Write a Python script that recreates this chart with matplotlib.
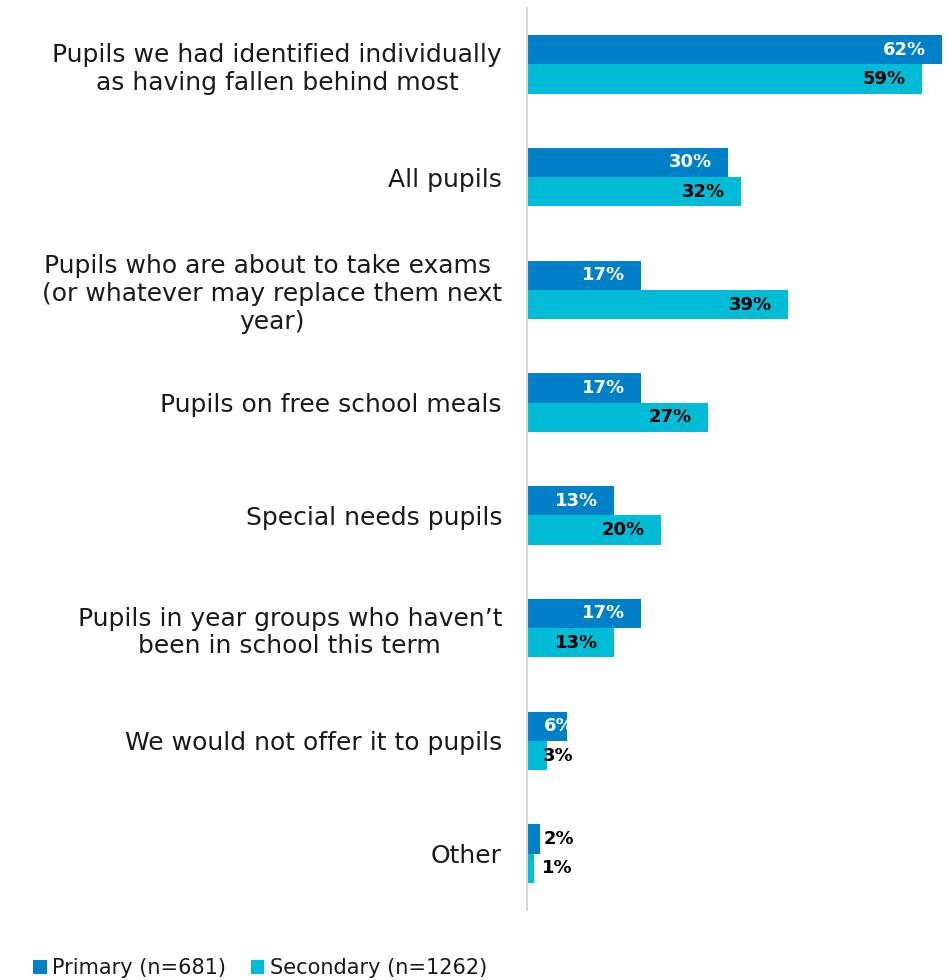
import matplotlib.pyplot as plt
import numpy as np

categories = ["Pupils we had identified individually\nas having fallen behind most",
              "All pupils",
              "Pupils who are about to take exams \n(or whatever may replace them next\nyear)",
              "Pupils on free school meals",
              "Special needs pupils",
              "Pupils in year groups who haven\u2019t\nbeen in school this term",
              "We would not offer it to pupils",
              "Other"]
primary = [62, 30, 17, 17, 13, 17, 6, 2]
secondary = [59, 32, 39, 27, 20, 13, 3, 1]
series_names = ["Primary (n=681)", "Secondary (n=1262)"]

c_prim = "#0080C8"
c_sec = "#00BCD6"

plt.rcParams['font.family'] = "DejaVu Sans"

fig = plt.figure(figsize=(9.5, 9.8), dpi=100)
ax = fig.add_axes([527/950, 1-910/980, 418/950, 902/980])

y = np.arange(len(categories))
h = 0.26
b1 = ax.barh(y - h/2, primary, height=h, color=c_prim, label=series_names[0])
b2 = ax.barh(y + h/2, secondary, height=h, color=c_sec, label=series_names[1])

ax.set_xlim(0, 62.4)
ax.set_ylim(len(categories) - 0.5, -0.5)

# value labels
for yy, v in zip(y - h/2, primary):
    if v >= 10:
        ax.text(v - 2.4, yy, f"{v}%", ha='right', va='center', color='white', fontsize=13, fontweight='bold')
    else:
        col = 'white' if v >= 5 else 'black'
        ax.text(2.5, yy, f"{v}%", ha='left', va='center', color=col, fontsize=13, fontweight='bold')
for yy, v in zip(y + h/2, secondary):
    if v >= 10:
        ax.text(v - 2.4, yy, f"{v}%", ha='right', va='center', color='black', fontsize=13, fontweight='bold')
    else:
        ax.text(2.3, yy, f"{v}%", ha='left', va='center', color='black', fontsize=13, fontweight='bold')

ax.set_yticks(y)
ax.set_yticklabels(categories, fontsize=18, multialignment='center', color='#1a1a1a')
ax.tick_params(axis='y', length=0, pad=18)
ax.set_xticks([])
for s in ['top', 'right', 'bottom']:
    ax.spines[s].set_visible(False)
ax.spines['left'].set_color('#D9D9D9')
ax.spines['left'].set_linewidth(1.5)

fig.legend(handles=[b1, b2], labels=series_names, loc='lower left', bbox_to_anchor=(0.015, -0.017),
           ncol=2, frameon=False, fontsize=15, handlelength=0.65, handleheight=0.65,
           handletextpad=0.25, columnspacing=1.2, labelcolor='#1a1a1a')

fig.savefig("out.png", dpi=100)
